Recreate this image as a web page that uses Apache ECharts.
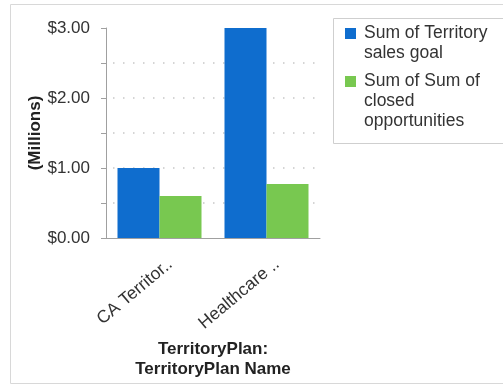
<!DOCTYPE html>
<html>
<head>
<meta charset="utf-8">
<script src="https://cdn.jsdelivr.net/npm/echarts@6/dist/echarts.min.js"></script>
<style>
  html, body { margin: 0; padding: 0; background: #fff; }
  #chart { width: 503px; height: 385px; }
</style>
</head>
<body>
<div id="chart"></div>
<script>
// Territory plans and their totals, in millions of dollars
const categories = ['CA Territor..', 'Healthcare ..'];
const seriesNames = ['Sum of Territory\nsales goal', 'Sum of Sum of\nclosed\nopportunities'];
const salesGoal = [1.00, 3.00];
const closedOpps = [0.60, 0.77];
const yTickLabels = ['$0.00', '$1.00', '$2.00', '$3.00'];
const colors = ['#0f6dce', '#78c850'];

const FONT = '"Liberation Sans", Arial, sans-serif';
const TEXT = '#333';

// Legend drawn as a boxed list whose swatch sits beside the first text line
function buildLegend() {
  const children = [{
    type: 'rect',
    shape: { x: 333.5, y: 18.5, width: 200, height: 125 },
    style: { fill: '#fff', stroke: '#cfcfcf', lineWidth: 1 }
  }];
  let top = 23;
  seriesNames.forEach((name, i) => {
    const lines = name.split('\n').length;
    children.push({
      type: 'rect',
      shape: { x: 345, y: top + 5, width: 11, height: 11 },
      style: { fill: colors[i] }
    });
    children.push({
      type: 'text',
      x: 364, y: top,
      style: { text: name, fill: TEXT, font: '17.5px ' + FONT, lineHeight: 20, verticalAlign: 'top' }
    });
    top += lines * 20 + 8;
  });
  return children;
}

const chart = echarts.init(document.getElementById('chart'));
chart.setOption({
  animation: false,
  textStyle: { fontFamily: FONT },
  grid: { left: 106, right: 183, top: 28, bottom: 147, containLabel: false },
  xAxis: {
    type: 'category',
    data: categories,
    name: 'TerritoryPlan:\nTerritoryPlan Name',
    nameLocation: 'middle',
    nameGap: 99,
    nameTextStyle: { fontWeight: 'bold', fontSize: 17, color: '#222', lineHeight: 20, fontFamily: FONT },
    axisLine: { lineStyle: { color: '#a0a0a0', width: 1 } },
    axisTick: { alignWithLabel: true, length: 5, lineStyle: { color: '#a0a0a0' } },
    axisLabel: {
      rotate: 40, fontSize: 17.5, color: TEXT, margin: 33, fontFamily: FONT, interval: 0,
      padding: [0, -14, 0, 0]
    }
  },
  yAxis: {
    type: 'value',
    min: 0, max: 3, interval: 0.5,
    name: '(Millions)',
    nameLocation: 'middle',
    nameRotate: 90,
    nameGap: 62,
    nameTextStyle: { fontWeight: 'bold', fontSize: 17, color: '#222', fontFamily: FONT },
    axisLine: { show: true, lineStyle: { color: '#a0a0a0', width: 1 } },
    axisTick: { show: true, length: 5, lineStyle: { color: '#a0a0a0' } },
    axisLabel: {
      fontSize: 17, color: TEXT, margin: 16, fontFamily: FONT,
      formatter: v => (Math.abs(v - Math.round(v)) < 1e-9 ? yTickLabels[Math.round(v)] : '')
    },
    splitLine: {
      show: true,
      lineStyle: {
        color: ['transparent', '#c8c8c8', '#c8c8c8', '#c8c8c8', '#c8c8c8', '#c8c8c8', 'transparent'],
        type: [1.5, 8.5],
        dashOffset: -7,
        width: 1.5
      }
    }
  },
  series: [
    {
      name: seriesNames[0], type: 'bar', data: salesGoal,
      barWidth: 42, barGap: '0%',
      itemStyle: { color: colors[0] }
    },
    {
      name: seriesNames[1], type: 'bar', data: closedOpps,
      barWidth: 42, barGap: '0%',
      itemStyle: { color: colors[1] }
    }
  ],
  graphic: [
    {
      type: 'rect',
      shape: { x: 10.5, y: 4.5, width: 600, height: 379 },
      style: { fill: 'none', stroke: '#d8d8d8', lineWidth: 1 },
      silent: true, z: -10
    },
    { type: 'group', children: buildLegend() }
  ]
});
</script>
</body>
</html>
